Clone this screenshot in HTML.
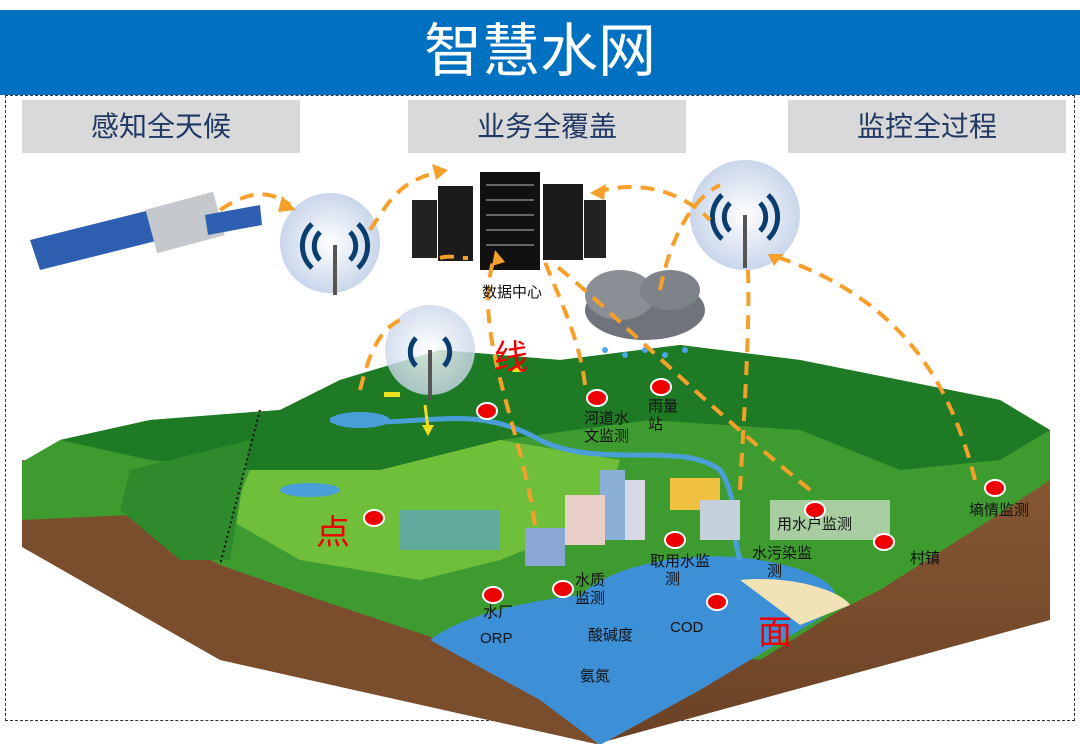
<!DOCTYPE html>
<html><head><meta charset="utf-8"><style>
body{margin:0;width:1080px;height:744px;overflow:hidden;background:#fff;font-family:"Liberation Sans","Noto Sans CJK SC",sans-serif;position:relative}
.t{position:absolute;font-size:15px;color:#111;line-height:18px}
.box{position:absolute;top:100px;height:53px;background:#d9d9d9;color:#1f3864;font-size:28px;text-align:center;line-height:53px}
.dot{position:absolute;width:18px;height:14px;border-radius:50%;background:#e00;border:2px solid #fff;margin:-9px 0 0 -11px}
.big{position:absolute;color:#e00;font-size:34px}
</style></head><body>
<div style="position:absolute;left:0;top:10px;width:1080px;height:85px;background:#0070c0"></div>
<div style="position:absolute;left:0;top:12px;width:1080px;text-align:center;color:#fff;font-size:58px;line-height:80px">智慧水网</div>
<div style="position:absolute;left:5px;top:95px;width:1068px;height:624px;border:1.5px dashed #333"></div>
<div class="box" style="left:22px;width:278px">感知全天候</div>
<div class="box" style="left:408px;width:278px">业务全覆盖</div>
<div class="box" style="left:788px;width:278px">监控全过程</div>
<svg width="1080" height="744" style="position:absolute;left:0;top:0">
<defs>
<radialGradient id="tw"><stop offset="0" stop-color="#fff"/><stop offset="1" stop-color="#c9d6ea"/></radialGradient>
<linearGradient id="soil" x1="0" y1="0" x2="0" y2="1"><stop offset="0" stop-color="#8a5a35"/><stop offset="1" stop-color="#6b4226"/></linearGradient>
</defs>
<!-- soil -->
<polygon points="22,460 220,565 596,744 1050,620 1050,430 596,520" fill="url(#soil)"/>
<polygon points="22,460 22,547 220,660 596,744 596,600 220,565" fill="#7a4d2c"/>
<!-- green top -->
<path d="M22,462 L60,440 L150,420 L280,410 L340,380 L440,350 L560,360 L680,345 L800,360 L900,380 L1000,400 L1050,430 L1050,480 L990,520 L880,590 L840,610 L760,660 L596,640 L440,640 L320,600 L220,565 L130,515 L22,520 Z" fill="#3e9b2f"/>
<path d="M60,440 L150,420 L280,410 L340,380 L440,350 L560,360 L680,345 L800,360 L900,380 L1000,400 L1050,430 L1000,460 L900,470 L800,430 L650,420 L500,440 L380,470 L250,470 L150,460Z" fill="#1f7a25"/>
<path d="M250,470 L380,470 L500,440 L620,460 L600,520 L500,560 L420,580 L300,560 L230,520Z" fill="#6fbf3a"/>
<path d="M130,470 L250,440 L230,560 L180,560 L120,510Z" fill="#2e8a2a"/>
<!-- lake -->
<path d="M430,640 C470,610 540,600 580,595 C620,560 700,550 760,560 C820,570 850,590 830,612 L700,690 L600,745 L540,700 Z" fill="#3d8fd6"/>
<path d="M740,580 C790,575 840,590 850,605 L800,625 Z" fill="#f1e3b5"/>
<!-- river -->
<path d="M330,420 C420,430 470,400 540,440 C600,470 680,440 720,470 C740,500 730,530 740,560" stroke="#4a9fd8" stroke-width="5" fill="none"/>
<ellipse cx="360" cy="420" rx="30" ry="8" fill="#4a9fd8"/>
<ellipse cx="310" cy="490" rx="30" ry="7" fill="#4a9fd8"/>
<!-- city -->
<rect x="600" y="470" width="25" height="70" fill="#8ab0d8"/><rect x="625" y="480" width="20" height="60" fill="#d9d9e6"/>
<rect x="525" y="528" width="40" height="38" fill="#8aa6d4"/><rect x="565" y="495" width="40" height="50" fill="#e8cfc8"/>
<rect x="670" y="478" width="50" height="32" fill="#f0c040"/><rect x="700" y="500" width="40" height="40" fill="#c5d0dd"/>
<rect x="770" y="500" width="120" height="40" fill="#eee" opacity=".6"/>
<rect x="400" y="510" width="100" height="40" fill="#5aa0c8" opacity=".7"/>
<polyline points="260,410 220,565" stroke="#111" stroke-width="2" stroke-dasharray="2 3" fill="none"/>
<!-- cloud -->
<ellipse cx="645" cy="310" rx="60" ry="30" fill="#6f747c"/><ellipse cx="620" cy="295" rx="35" ry="25" fill="#8a8f96"/><ellipse cx="670" cy="290" rx="30" ry="20" fill="#7e838a"/>
<g fill="#4aa6e8"><circle cx="605" cy="350" r="3"/><circle cx="625" cy="355" r="3"/><circle cx="645" cy="350" r="3"/><circle cx="665" cy="355" r="3"/><circle cx="685" cy="350" r="3"/></g>
<!-- satellite -->
<polygon points="30,240 150,210 160,240 40,270" fill="#2f5fb0"/>
<rect x="150" y="200" width="70" height="45" fill="#c5c8cc" transform="rotate(-15 185 222)"/>
<polygon points="205,215 260,205 262,225 208,235" fill="#2f5fb0"/>
<!-- towers -->
<circle cx="330" cy="243" r="50" fill="url(#tw)"/><circle cx="745" cy="215" r="55" fill="url(#tw)"/><circle cx="430" cy="350" r="45" fill="url(#tw)" opacity=".8"/>
<g stroke="#555" stroke-width="4" fill="none">
<line x1="335" y1="245" x2="335" y2="295"/><line x1="745" y1="215" x2="745" y2="268"/><line x1="430" y1="350" x2="430" y2="400"/>
</g>
<g stroke="#0b3d6e" stroke-width="5" fill="none">
<path d="M320,232 a20,20 0 0 0 0,28 M350,232 a20,20 0 0 1 0,28 M312,224 a30,30 0 0 0 0,44 M358,224 a30,30 0 0 1 0,44"/>
<path d="M730,203 a20,20 0 0 0 0,28 M760,203 a20,20 0 0 1 0,28 M722,195 a30,30 0 0 0 0,44 M768,195 a30,30 0 0 1 0,44"/>
<path d="M416,338 a20,20 0 0 0 0,28 M444,338 a20,20 0 0 1 0,28"/>
</g>
<!-- servers -->
<rect x="412" y="200" width="25" height="58" fill="#222"/><rect x="438" y="186" width="35" height="75" fill="#1b1b1b"/>
<rect x="480" y="172" width="60" height="98" fill="#111"/><rect x="543" y="184" width="40" height="76" fill="#1b1b1b"/><rect x="584" y="200" width="22" height="58" fill="#222"/>
<g stroke="#666" stroke-width="2"><line x1="486" y1="185" x2="534" y2="185"/><line x1="486" y1="200" x2="534" y2="200"/><line x1="486" y1="215" x2="534" y2="215"/><line x1="486" y1="230" x2="534" y2="230"/><line x1="486" y1="245" x2="534" y2="245"/></g>
<!-- orange dashed arrows -->
<g stroke="#f5a02a" stroke-width="4" stroke-dasharray="14 9" fill="none">
<path d="M220,210 C250,190 270,190 290,205"/>
<path d="M370,230 C390,200 400,180 440,172"/>
<path d="M595,192 C640,180 680,190 710,220"/>
<path d="M660,290 C670,240 690,200 720,185"/>
<path d="M740,490 C745,400 750,320 748,270"/>
<path d="M975,480 C950,380 900,300 780,258"/>
<path d="M810,490 C700,400 600,300 555,265"/>
<path d="M535,525 C520,420 470,330 495,255"/>
<path d="M585,385 C580,340 560,300 545,262"/>
<path d="M360,390 C370,350 380,330 400,320"/>
<path d="M440,258 C450,255 460,258 468,258"/>
</g>
<g fill="#f5a02a"><polygon points="296,210 282,196 278,212"/><polygon points="448,170 432,164 436,180"/><polygon points="590,193 606,184 604,200"/><polygon points="768,254 784,254 774,266"/><polygon points="495,250 492,266 505,262"/></g>
<path d="M425,405 L428,428" stroke="#f0e020" stroke-width="3"/><polygon points="422,425 434,425 428,436" fill="#f0e020"/>
<polygon points="512,372 524,372 518,362" fill="#f0e020"/>
<rect x="384" y="392" width="16" height="5" fill="#f0e020"/>
</svg>
<div class="t" style="left:482px;top:284px">数据中心</div>
<div class="big" style="left:494px;top:330px">线</div>
<div class="big" style="left:316px;top:505px">点</div>
<div class="big" style="left:758px;top:605px">面</div>
<div class="dot" style="left:487px;top:411px"></div>
<div class="dot" style="left:597px;top:398px"></div>
<div class="dot" style="left:661px;top:387px"></div>
<div class="dot" style="left:374px;top:518px"></div>
<div class="dot" style="left:675px;top:540px"></div>
<div class="dot" style="left:815px;top:510px"></div>
<div class="dot" style="left:884px;top:542px"></div>
<div class="dot" style="left:995px;top:488px"></div>
<div class="dot" style="left:493px;top:595px"></div>
<div class="dot" style="left:563px;top:589px"></div>
<div class="dot" style="left:717px;top:602px"></div>
<div class="t" style="left:584px;top:410px;width:48px">河道水<br>文监测</div>
<div class="t" style="left:648px;top:398px">雨量<br>站</div>
<div class="t" style="left:650px;top:553px">取用水监<br>　测</div>
<div class="t" style="left:752px;top:545px">水污染监<br>　测</div>
<div class="t" style="left:777px;top:516px">用水户监测</div>
<div class="t" style="left:910px;top:550px">村镇</div>
<div class="t" style="left:969px;top:502px">墒情监测</div>
<div class="t" style="left:483px;top:604px">水厂</div>
<div class="t" style="left:575px;top:572px">水质<br>监测</div>
<div class="t" style="left:480px;top:630px">ORP</div>
<div class="t" style="left:588px;top:627px">酸碱度</div>
<div class="t" style="left:670px;top:619px">COD</div>
<div class="t" style="left:580px;top:668px">氨氮</div>
</body></html>
